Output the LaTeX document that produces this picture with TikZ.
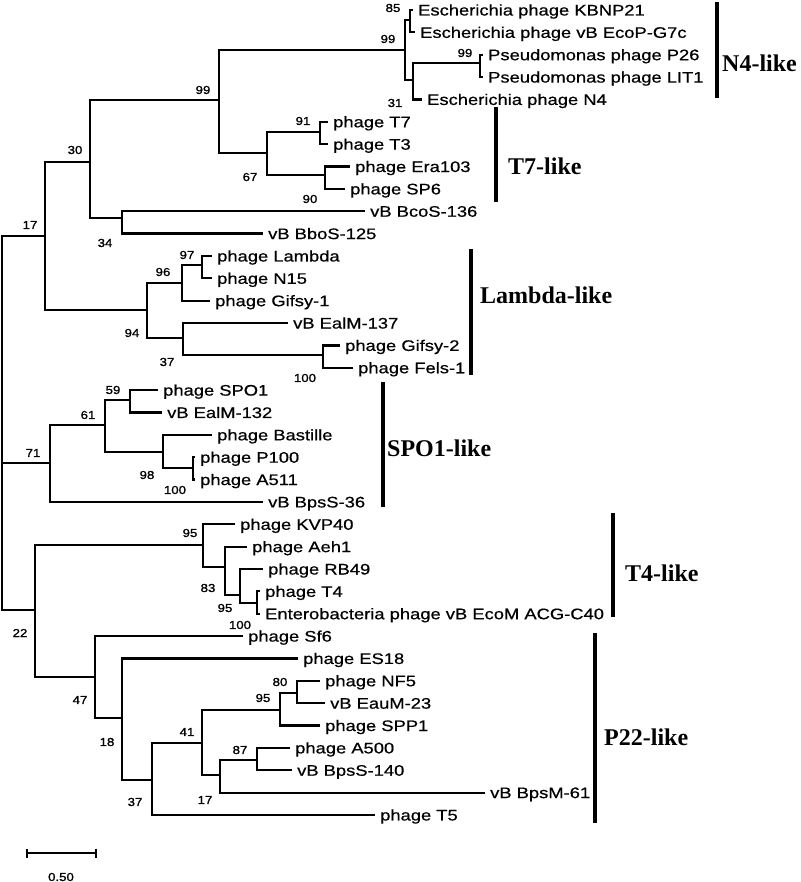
\documentclass[tikz,border=0pt]{standalone}
\usepackage{fontspec}
\newfontfamily\treefont{Liberation Sans}[FakeStretch=1.2,FakeBold=0.6]
\newfontfamily\bootfont{Liberation Sans}[FakeStretch=1.15,FakeBold=1.4]
\newfontfamily\cladefont{Liberation Serif}
\usetikzlibrary{arrows.meta}
\tikzset{
  br/.style      ={draw=black, line width=2.2pt},
  leaf/.style    ={anchor=west, inner xsep=5pt, inner ysep=0pt, text height=11pt, text depth=0pt,
                   font=\treefont\fontsize{15.3pt}{16pt}\selectfont},
  boot/.style    ={inner sep=0pt, font=\bootfont\fontsize{11.5pt}{12pt}\selectfont},
  cladebar/.style={draw=black, line width=4pt},
  clade/.style   ={anchor=west, inner sep=0pt, font=\cladefont\bfseries\fontsize{24pt}{26pt}\selectfont},
}

\begin{document}
\begin{tikzpicture}[x=1pt,y=-1pt]
\useasboundingbox (0,0) rectangle (800,882);

% ---------- leaves (row spacing 22.36) ----------
\foreach \i/\x/\lab in {1/418/Escherichia phage KBNP21, 2/420/Escherichia phage vB EcoP-G7c,
    3/488/Pseudomonas phage P26, 4/488/Pseudomonas phage LIT1, 5/427/Escherichia phage N4,
    6/333/phage T7, 7/333/phage T3, 8/355/phage Era103, 9/350/phage SP6,
    10/370/vB BcoS-136, 11/268/vB BboS-125,
    12/217/phage Lambda, 13/217/phage N15, 14/215/phage Gifsy-1, 15/293/vB EalM-137,
    16/345/phage Gifsy-2, 17/358/phage Fels-1,
    18/163/phage SPO1, 19/167/vB EalM-132, 20/217/phage Bastille, 21/200/phage P100,
    22/200/phage A511, 23/268/vB BpsS-36,
    24/240/phage KVP40, 25/252/phage Aeh1, 26/268/phage RB49, 27/265/phage T4,
    28/265/Enterobacteria phage vB EcoM ACG-C40,
    29/248/phage Sf6, 30/303/phage ES18, 31/325/phage NF5, 32/330/vB EauM-23,
    33/325/phage SPP1, 34/295/phage A500, 35/297/vB BpsS-140, 36/490/vB BpsM-61,
    37/380/phage T5}{
  \node[leaf] (L\i) at ({\x-5},{10+22.36*(\i-1)}) {\lab};
}

% ---------- internal nodes ----------
\coordinate (R)    at (2,463);
\coordinate (n17)  at (45,236);
\coordinate (n30)  at (90,162);
\coordinate (n99a) at (219,100);
\coordinate (n99b) at (405,50);
\coordinate (n85)  at (410,20);
\coordinate (n31)  at (413,80);
\coordinate (n99c) at (480,63);
\coordinate (n67)  at (267,153);
\coordinate (n91)  at (320,132);
\coordinate (n90)  at (325,175);
\coordinate (n34)  at (122,218);
\coordinate (n94)  at (147,310);
\coordinate (n96)  at (182,283);
\coordinate (n97)  at (202,265);
\coordinate (n37a) at (183,338);
\coordinate (n100a) at (323,355);
\coordinate (n71)  at (50,463);
\coordinate (n61)  at (105,425);
\coordinate (n59)  at (130,400);
\coordinate (n98)  at (163,452);
\coordinate (n100b) at (193,468);
\coordinate (n22)  at (35,610);
\coordinate (n95a) at (203,545);
\coordinate (n83)  at (225,567);
\coordinate (n95b) at (240,595);
\coordinate (n100c) at (257,603);
\coordinate (n47)  at (95,677);
\coordinate (n18)  at (122,718);
\coordinate (n37b) at (152,780);
\coordinate (n41)  at (202,743);
\coordinate (n95c) at (280,710);
\coordinate (n80)  at (297,693);
\coordinate (n17b) at (220,775);
\coordinate (n87)  at (257,760);

% ---------- branches ----------
\draw[br] (R) -- (n71);
\foreach \p/\c in {R/n17, R/n22, n17/n30, n17/n94, n30/n99a, n30/n34,
    n99a/n99b, n99a/n67, n99b/n85, n99b/n31, n85/L1.west, n85/L2.west,
    n31/n99c, n31/L5.west, n99c/L3.west, n99c/L4.west,
    n67/n91, n67/n90, n91/L6.west, n91/L7.west, n90/L8.west, n90/L9.west,
    n34/L10.west, n34/L11.west,
    n94/n96, n94/n37a, n96/n97, n96/L14.west, n97/L12.west, n97/L13.west,
    n37a/L15.west, n37a/n100a, n100a/L16.west, n100a/L17.west,
    n71/n61, n71/L23.west, n61/n59, n61/n98, n59/L18.west, n59/L19.west,
    n98/L20.west, n98/n100b, n100b/L21.west, n100b/L22.west,
    n22/n95a, n22/n47, n95a/L24.west, n95a/n83, n83/L25.west, n83/n95b,
    n95b/L26.west, n95b/n100c, n100c/L27.west, n100c/L28.west,
    n47/L29.west, n47/n18, n18/L30.west, n18/n37b,
    n37b/n41, n37b/L37.west, n41/n95c, n41/n17b,
    n95c/n80, n95c/L33.west, n80/L31.west, n80/L32.west,
    n17b/n87, n17b/L36.west, n87/L34.west, n87/L35.west}{
  \draw[br] (\p) |- (\c);
}

% ---------- bootstrap values ----------
\foreach \x/\y/\v [count=\k] in {393/8/85, 388/39/99, 203/90/99, 395/103/31, 465/53/99,
    303/121/91, 250/177/67, 310/199/90, 75/150/30, 105/243/34, 30/225/17,
    187/255/97, 163/272/96, 132/333/94, 167/362/37, 305/378/100,
    113/390/59, 88/415/61, 33/453/71, 147/475/98, 175/490/100,
    190/533/95, 208/588/83, 225/608/95, 240/625/100, 20/633/22,
    80/700/47, 107/742/18, 135/802/37, 187/732/41, 263/698/95,
    280/682/80, 240/750/87, 205/800/17}{
  \node[boot] (bs\k) at (\x,\y) {\v};
}

% ---------- clade bars ----------
\foreach \x/\ya/\yb/\lx/\ly/\lab [count=\k] in {717/2/98/722/63/N4-like,
    496/107/202/508/166/T7-like, 471/249/375/480/295/Lambda-like,
    383/382/507/387/448/SPO1-like, 613/513/617/625/573/T4-like,
    595/633/823/604/737/P22-like}{
  \draw[cladebar] (\x,\ya) -- (\x,\yb);
  \node[clade] (cl\k) at (\lx,\ly) {\lab};
}

% ---------- scale bar ----------
\coordinate (sb0) at (26,853);
\coordinate (sb1) at (97,853);
\draw[br, line width=1.8pt, {Bar[width=9pt]}-{Bar[width=9pt]}] (sb0) -- (sb1);
\node[boot] (sblab) at (61,877) {0.50};
\end{tikzpicture}
\end{document}
